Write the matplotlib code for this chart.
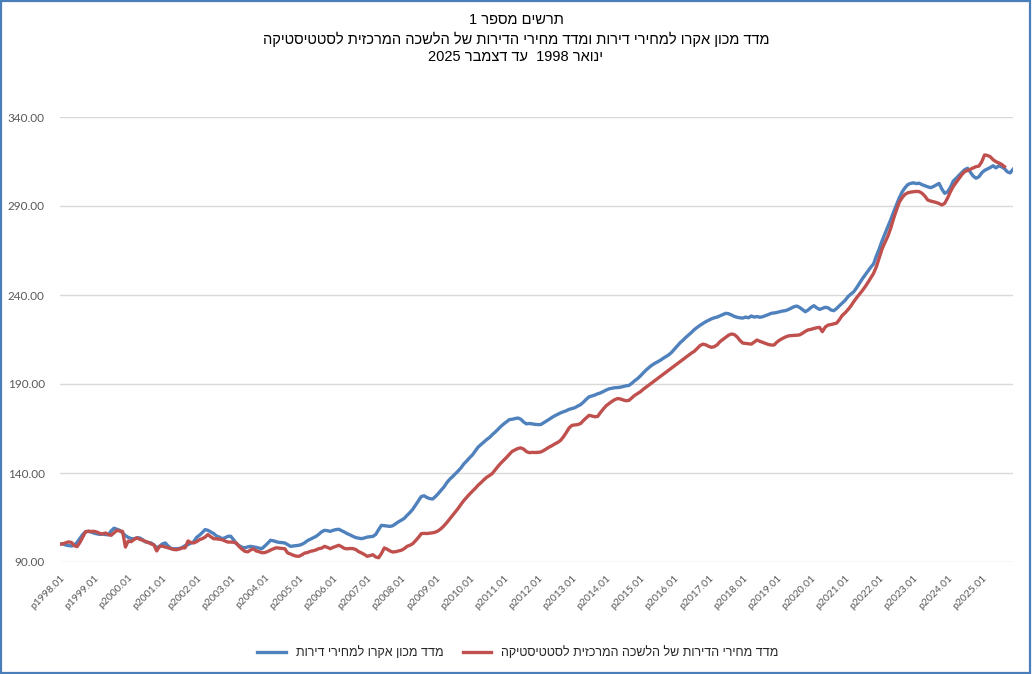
import re
import matplotlib
matplotlib.use("Agg")
import matplotlib.pyplot as plt
from matplotlib.patches import Rectangle
from matplotlib.transforms import ScaledTranslation

# ---- data (monthly index, Jan 1998 = 100) ----
years = list(range(1998, 2026))

# Acro institute housing price index (blue), 1998.01 - 2025.12
acro_index = [
    100.0, 100.3, 99.5, 99.2, 99.0, 99.4, 101.0, 103.2, 105.5, 107.0, 107.2, 106.8,   # 1998
    106.2, 105.8, 105.5, 105.7, 105.4, 105.3, 107.5, 109.0, 108.4, 107.8, 106.3, 104.8,  # 1999
    103.8, 103.2, 103.0, 103.6, 103.5, 102.6, 101.3, 101.0, 100.7, 99.6, 98.0, 98.8,  # 2000
    100.2, 100.7, 99.0, 97.6, 97.4, 97.5, 97.6, 98.2, 99.2, 99.8, 100.6, 101.4,  # 2001
    103.8, 105.0, 106.5, 108.2, 107.8, 106.9, 106.0, 104.6, 104.0, 103.1, 103.6, 104.4,  # 2002
    104.5, 102.5, 100.3, 99.2, 98.2, 98.0, 98.5, 98.8, 98.5, 98.2, 97.8, 97.5,  # 2003
    99.0, 100.5, 102.2, 101.9, 101.4, 101.0, 100.9, 100.7, 99.8, 98.8, 99.0, 99.2,  # 2004
    99.4, 99.9, 100.8, 102.0, 102.8, 103.6, 104.4, 105.6, 107.0, 107.8, 107.6, 107.2,  # 2005
    107.8, 108.2, 108.4, 107.6, 106.8, 105.9, 105.2, 104.4, 103.7, 103.4, 103.1, 103.5,  # 2006
    104.0, 104.2, 104.4, 105.5, 108.2, 110.6, 110.4, 110.2, 110.0, 110.4, 111.5, 112.6,  # 2007
    113.5, 114.5, 116.2, 117.8, 119.6, 122.0, 124.5, 126.8, 127.2, 126.2, 125.6, 125.4,  # 2008
    126.8, 128.5, 130.4, 132.2, 134.6, 136.5, 138.0, 139.6, 141.2, 143.0, 145.2, 146.8,  # 2009
    148.6, 150.2, 152.4, 154.6, 156.0, 157.4, 158.8, 160.0, 161.6, 163.0, 164.6, 166.2,  # 2010
    167.6, 168.8, 170.0, 170.2, 170.6, 170.9, 170.2, 168.6, 167.6, 167.8, 167.6, 167.3,  # 2011
    167.2, 167.2, 168.2, 169.2, 170.2, 171.3, 172.2, 173.0, 173.8, 174.4, 175.0, 175.8,  # 2012
    176.2, 176.7, 177.6, 178.4, 179.8, 181.4, 182.8, 183.3, 183.8, 184.5, 185.0, 185.8,  # 2013
    186.6, 187.3, 187.6, 187.9, 188.0, 188.2, 188.6, 189.0, 189.2, 190.4, 191.8, 193.0,  # 2014
    194.5, 196.2, 197.8, 199.2, 200.5, 201.5, 202.4, 203.3, 204.4, 205.4, 206.4, 207.8,  # 2015
    209.6, 211.4, 213.2, 214.6, 216.2, 217.6, 219.0, 220.6, 221.8, 223.0, 224.0, 225.0,  # 2016
    225.8, 226.6, 227.2, 227.6, 228.3, 229.0, 229.7, 229.5, 228.8, 228.0, 227.5, 227.2,  # 2017
    227.0, 227.6, 227.2, 228.2, 227.6, 227.9, 227.5, 227.8, 228.4, 229.0, 229.7, 229.9,  # 2018
    230.2, 230.6, 231.0, 231.2, 231.8, 232.6, 233.4, 233.8, 233.0, 231.8, 230.6, 231.6,  # 2019
    233.0, 234.0, 232.8, 231.9, 232.5, 233.1, 232.8, 231.6, 231.2, 232.4, 234.0, 235.5,  # 2020
    237.0, 239.1, 240.5, 241.8, 244.0, 246.5, 249.0, 251.2, 253.4, 255.6, 257.5, 262.0,  # 2021
    266.0, 270.5, 274.5, 278.4, 282.2, 286.5, 290.5, 294.5, 297.8, 300.2, 302.0, 302.7,  # 2022
    303.0, 302.6, 302.8, 302.0, 301.4, 300.8, 300.3, 300.9, 301.8, 302.7, 299.5, 297.1,  # 2023
    298.0, 300.5, 304.0, 305.5, 307.2, 308.8, 310.4, 311.2, 309.0, 306.8, 305.6, 306.4,  # 2024
    308.6, 310.0, 310.8, 311.6, 312.6, 311.4, 312.6, 312.0, 311.0, 309.2, 308.6, 310.6,  # 2025
]

# Central Bureau of Statistics dwelling price index (red), 1998.01 - 2025.09
cbs_index = [
    100.0, 100.2, 100.8, 101.3, 101.0, 99.2, 98.6, 101.0, 104.0, 107.0, 107.3, 107.2,  # 1998
    107.2, 106.8, 106.0, 105.8, 106.3, 105.4, 105.0, 106.4, 107.8, 107.4, 107.2, 98.4,  # 1999
    101.8, 101.4, 102.6, 103.6, 102.8, 102.2, 101.6, 101.0, 100.2, 99.6, 96.2, 98.8,  # 2000
    98.9, 98.4, 98.0, 97.5, 97.0, 96.9, 97.3, 97.9, 98.0, 101.8, 100.9, 100.7,  # 2001
    101.4, 102.5, 103.1, 104.0, 105.4, 104.2, 103.1, 103.0, 102.8, 102.5, 101.8, 101.2,  # 2002
    101.2, 101.1, 100.6, 98.6, 97.2, 96.0, 95.7, 96.8, 97.4, 96.2, 95.8, 95.2,  # 2003
    95.3, 95.9, 96.7, 97.4, 98.0, 97.8, 97.6, 97.5, 95.1, 94.5, 93.8, 93.3,  # 2004
    93.2, 94.0, 95.0, 95.3, 96.0, 96.3, 96.8, 97.5, 97.8, 98.8, 98.2, 97.5,  # 2005
    98.2, 98.8, 99.4, 98.6, 97.6, 97.4, 97.6, 97.5, 97.0, 95.8, 95.1, 94.2,  # 2006
    93.2, 93.6, 94.1, 92.8, 92.4, 94.8, 97.9, 97.2, 96.2, 95.6, 95.8, 96.2,  # 2007
    96.6, 97.5, 98.8, 99.4, 100.3, 102.0, 103.8, 105.9, 106.1, 106.0, 106.2, 106.4,  # 2008
    106.8, 107.6, 108.8, 110.4, 112.2, 114.2, 116.2, 118.2, 120.2, 122.5, 124.6, 126.4,  # 2009
    128.2, 129.8, 131.4, 133.2, 134.6, 136.2, 137.6, 138.6, 139.8, 141.8, 143.8, 145.6,  # 2010
    147.2, 148.8, 150.6, 152.2, 153.0, 153.8, 154.1, 153.4, 152.0, 151.4, 151.6, 151.5,  # 2011
    151.6, 151.8, 152.6, 153.6, 154.6, 155.4, 156.4, 157.2, 158.4, 160.4, 162.8, 165.4,  # 2012
    166.8, 167.0, 167.2, 167.8, 169.5, 171.0, 172.4, 172.0, 171.6, 171.8, 174.0, 176.0,  # 2013
    177.8, 179.0, 180.2, 181.2, 181.8, 181.6, 181.0, 180.6, 180.8, 182.2, 183.6, 184.6,  # 2014
    185.6, 187.0, 188.2, 189.4, 190.6, 191.8, 193.0, 194.2, 195.4, 196.6, 197.8, 199.0,  # 2015
    200.2, 201.4, 202.6, 203.8, 205.0, 206.2, 207.4, 208.4, 210.0, 211.6, 212.4, 212.0,  # 2016
    211.2, 210.6, 211.0, 212.0, 213.8, 215.0, 216.2, 217.4, 218.1, 217.8, 216.5, 214.5,  # 2017
    213.0, 212.8, 212.6, 212.4, 213.5, 214.7, 214.0, 213.4, 212.8, 212.2, 211.9, 211.9,  # 2018
    213.5, 214.7, 215.6, 216.4, 217.0, 217.2, 217.3, 217.4, 217.6, 218.5, 219.6, 220.4,  # 2019
    220.7, 221.2, 221.6, 221.8, 219.4, 222.0, 223.1, 223.4, 223.8, 224.2, 226.2, 228.6,  # 2020
    230.0, 231.8, 233.8, 236.2, 238.4, 240.4, 242.4, 244.6, 247.0, 249.6, 252.2, 256.0,  # 2021
    261.0, 266.0, 269.6, 273.0, 277.5, 282.8, 287.6, 292.0, 294.6, 296.5, 297.4, 297.8,  # 2022
    298.0, 298.2, 298.1, 297.2, 295.6, 293.4, 292.8, 292.4, 292.0, 291.4, 290.6, 291.5,  # 2023
    294.5, 298.0, 301.0, 303.2, 305.5, 307.6, 309.3, 310.0, 310.6, 311.4, 312.1, 312.4,  # 2024
    314.8, 318.7, 318.4, 317.7, 316.0, 314.9, 314.2, 313.4, 312.1,  # 2025 (to Sep)
]

months = [f"p{y}.{m:02d}" for y in years for m in range(1, 13)]
y_ticks = [90, 140, 190, 240, 290, 340]

title_lines = [
    "תרשים מספר 1",
    "מדד מכון אקרו למחירי דירות ומדד מחירי הדירות של הלשכה המרכזית לסטטיסטיקה",
    "ינואר 1998  עד דצמבר 2025",
]
acro_label = "מדד מכון אקרו למחירי דירות"
cbs_label = "מדד מחירי הדירות של הלשכה המרכזית לסטטיסטיקה"

BLUE = "#4F81BD"
RED = "#C0504D"
GRID = "#D9D9D9"
TICK_COLOR = "#595959"
HEB_FONT = ["Liberation Sans", "DejaVu Sans"]


def rtl(s: str) -> str:
    """matplotlib has no bidi support: reverse to visual order, keep numbers LTR."""
    r = s[::-1]
    return re.sub(r"[0-9.]+", lambda m: m.group(0)[::-1], r)


fig = plt.figure(figsize=(10.32, 6.74), dpi=100)
ax = fig.add_axes([60 / 1032, 1 - 562 / 674, (1013 - 60) / 1032, (562 - 117) / 674])

x_acro = list(range(len(acro_index)))
x_cbs = list(range(len(cbs_index)))
ax.plot(x_acro, acro_index, color=BLUE, lw=2.4, solid_joinstyle="round",
        label=rtl(acro_label), zorder=3)
ax.plot(x_cbs, cbs_index, color=RED, lw=2.4, solid_joinstyle="round",
        label=rtl(cbs_label), zorder=4)

ax.set_xlim(0, len(months) - 1)
ax.set_ylim(90, 340)
ax.set_yticks(y_ticks)
ax.set_yticklabels([f"{v:.2f}" for v in y_ticks], fontsize=8.5,
                   color=TICK_COLOR, family="Lato")
tick_pos = list(range(0, len(months), 12))
ax.set_xticks(tick_pos)
ax.set_xticklabels([months[i] for i in tick_pos], rotation=45, ha="right",
                   va="top", rotation_mode="anchor", fontsize=7.5,
                   color=TICK_COLOR, family="Lato")
shift = ScaledTranslation(5 / 72, 0, fig.dpi_scale_trans)
for lbl in ax.get_xticklabels():
    lbl.set_transform(lbl.get_transform() + shift)
ax.tick_params(axis="both", length=0)
ax.tick_params(axis="x", pad=8)
ax.tick_params(axis="y", pad=11)
ax.grid(axis="y", color=GRID, lw=1.0)
ax.set_axisbelow(True)
for sp in ax.spines.values():
    sp.set_visible(False)

for txt, ypix in zip(title_lines, [20, 39, 57]):
    fig.text(0.5, 1 - ypix / 674, rtl(txt), ha="center", va="center",
             fontsize=10.5, family=HEB_FONT, color="black")

leg = fig.legend(loc="center", bbox_to_anchor=(518 / 1032, 1 - 653 / 674),
                 ncol=2, frameon=False, handlelength=2.3, handletextpad=0.8,
                 columnspacing=1.5, prop={"family": HEB_FONT, "size": 9})
for t in leg.get_texts():
    t.set_color("#262626")

fig.patches.append(Rectangle((0.001, 0.001), 0.997, 0.997, transform=fig.transFigure,
                             fill=False, edgecolor="#4A7EBB", lw=1.6))

fig.savefig("out.png", dpi=100, facecolor="white")
